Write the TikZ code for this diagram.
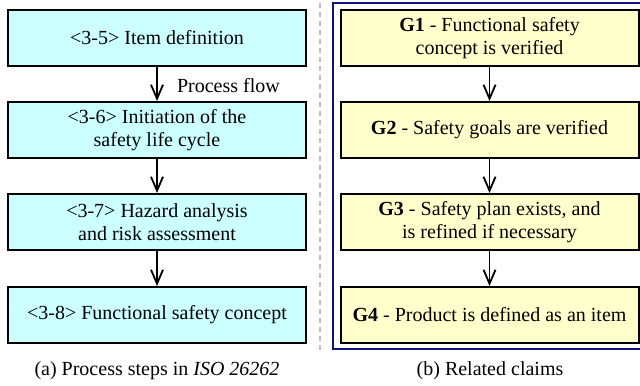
\documentclass[tikz,border=0pt]{standalone}
\usepackage{fontspec}
\setmainfont{Liberation Serif}
\usetikzlibrary{arrows.meta}
\definecolor{boxcyan}{RGB}{204,255,255}
\definecolor{boxyellow}{RGB}{255,255,204}
\definecolor{framenavy}{RGB}{16,16,128}
\definecolor{sepgray}{RGB}{190,190,190}
\tikzset{
  stepbox/.style={draw=black, line width=1pt, fill=boxcyan, minimum width=149pt, minimum height=28pt, align=center, inner sep=1pt, font=\fontsize{10}{11.5}\selectfont},
  claimbox/.style={stepbox, fill=boxyellow},
  flowarrow/.style={draw=black, line width=0.9pt, -{Straight Barb[length=7pt,width=6pt,line width=0.9pt]}},
  captiontext/.style={font=\fontsize{10}{12}\selectfont},
}
\begin{document}
\begin{tikzpicture}[x=0.5pt,y=-0.5pt]
\useasboundingbox (0,0) rectangle (640,385);
% separator and frame
\coordinate (septop) at (320,3);
\coordinate (sepbot) at (320,350);
\draw[sepgray, line width=1pt, dash pattern=on 2.5pt off 2pt] (septop) -- (sepbot);
\draw[framenavy, line width=1pt] (333,3) rectangle (643,349);
% left column
\node[stepbox] (s1) at (157,38) {<3-5> Item definition};
\node[stepbox] (s2) at (157,130) {<3-6> Initiation of the\\safety life cycle};
\node[stepbox] (s3) at (157,222) {<3-7> Hazard analysis\\and risk assessment};
\node[stepbox] (s4) at (157,315) {<3-8> Functional safety concept};
\draw[flowarrow] (s1) -- (s2);
\draw[flowarrow] (s2) -- (s3);
\draw[flowarrow] (s3) -- (s4);
\node[captiontext, anchor=west] (pf) at (170,86) {Process flow};
% right column
\node[claimbox] (g1) at (489.5,38) {\textbf{G1} - Functional safety\\concept is verified};
\node[claimbox] (g2) at (489.5,130) {\textbf{G2} - Safety goals are verified};
\node[claimbox] (g3) at (489.5,222) {\textbf{G3} - Safety plan exists, and\\is refined if necessary};
\node[claimbox] (g4) at (489.5,315) {\textbf{G4} - Product is defined as an item};
\draw[flowarrow] (g1) -- (g2);
\draw[flowarrow] (g2) -- (g3);
\draw[flowarrow] (g3) -- (g4);
% captions
\node[captiontext] (capa) at (157,371) {(a) Process steps in \textit{ISO 26262}};
\node[captiontext] (capb) at (490,371) {(b) Related claims};
\end{tikzpicture}
\end{document}
